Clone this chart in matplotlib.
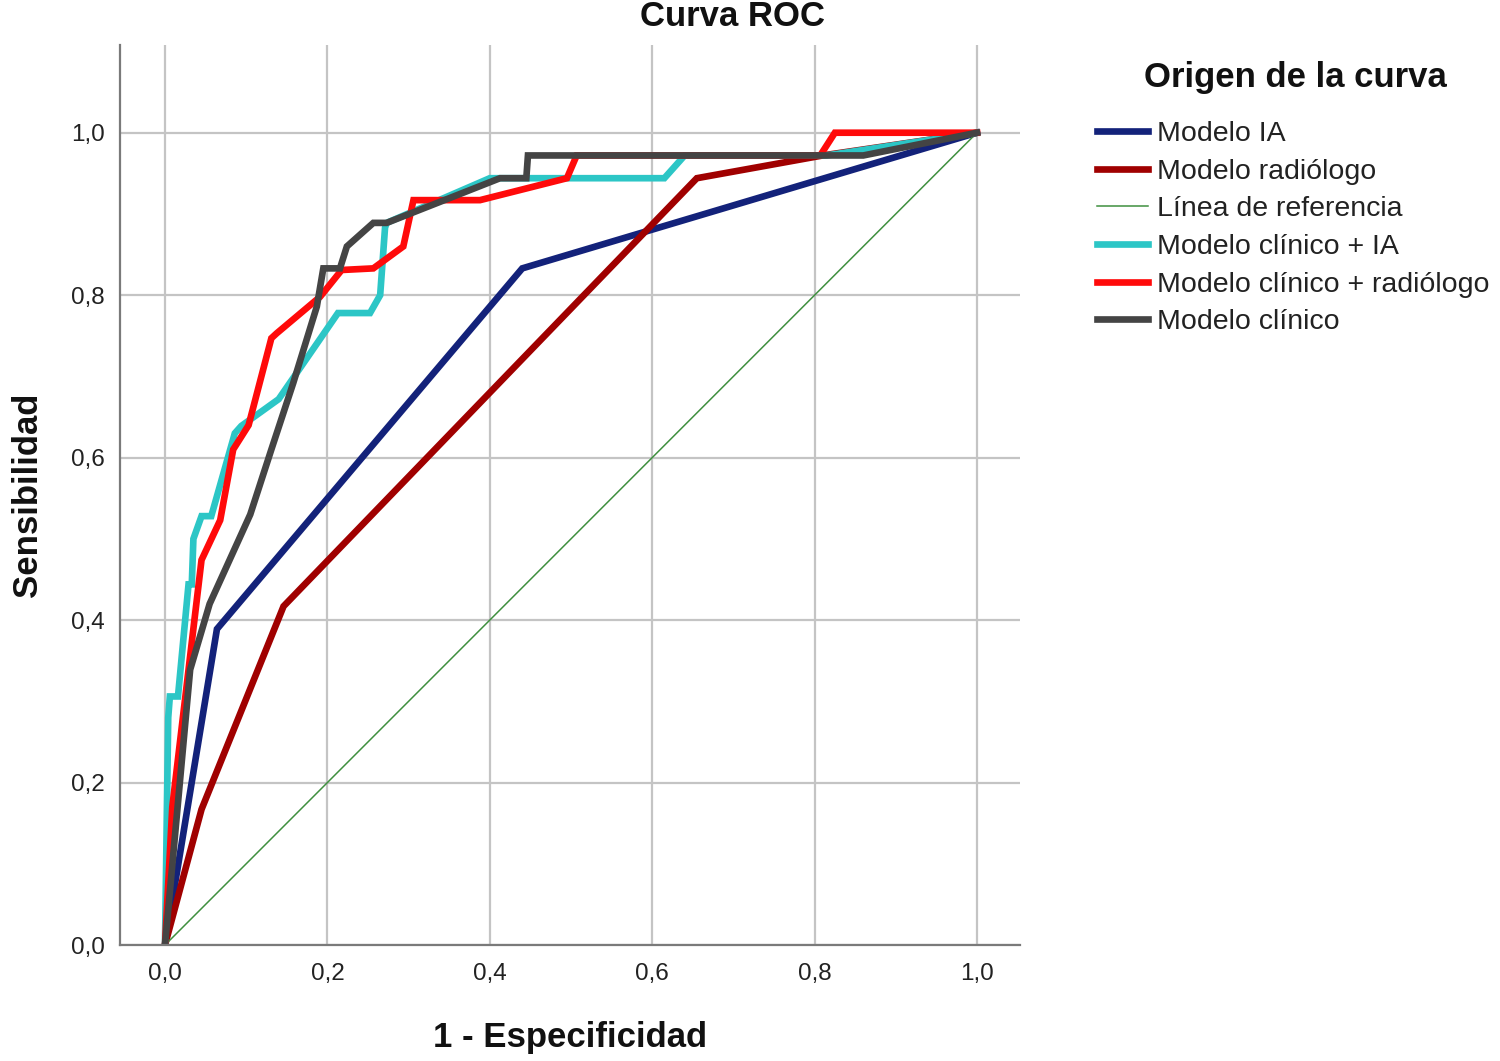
import matplotlib
matplotlib.use("Agg")
import matplotlib.pyplot as plt
from matplotlib.ticker import FixedLocator, FixedFormatter

plt.rcParams['font.family'] = ['Liberation Sans', 'DejaVu Sans']

# ---- data ----
ia_x = [0, 0.064, 0.44, 1.0]
ia_y = [0, 0.389, 0.833, 1.0]

rad_x = [0, 0.045, 0.146, 0.655, 0.81, 1.0]
rad_y = [0, 0.167, 0.417, 0.944, 0.972, 1.0]

ref_x = [0, 1.0]
ref_y = [0, 1.0]

cia_x = [0, 0.004, 0.006, 0.016, 0.029, 0.033, 0.035, 0.045, 0.057, 0.086, 0.094,
         0.14, 0.213, 0.2525, 0.265, 0.271, 0.273, 0.40, 0.615, 0.64, 0.815, 1.0]
cia_y = [0, 0.28, 0.306, 0.306, 0.444, 0.444, 0.5, 0.528, 0.528, 0.63, 0.639,
         0.672, 0.778, 0.778, 0.80, 0.883, 0.889, 0.944, 0.944, 0.972, 0.972, 1.0]

crad_x = [0, 0.009, 0.045, 0.068, 0.084, 0.103, 0.131, 0.1375, 0.191, 0.2176, 0.2566,
          0.2935, 0.306, 0.388, 0.495, 0.507, 0.807, 0.825, 1.0]
crad_y = [0, 0.17, 0.474, 0.523, 0.61, 0.64, 0.747, 0.753, 0.798, 0.831, 0.833,
          0.86, 0.917, 0.917, 0.944, 0.972, 0.972, 1.0, 1.0]

cli_x = [0, 0.031, 0.055, 0.105, 0.131, 0.158, 0.187, 0.195, 0.2155, 0.224, 0.2566,
         0.273, 0.4126, 0.445, 0.447, 0.86, 1.0]
cli_y = [0, 0.339, 0.42, 0.53, 0.61, 0.692, 0.786, 0.833, 0.833, 0.86, 0.889,
         0.889, 0.944, 0.944, 0.972, 0.972, 1.0]

series_labels = ["Modelo IA", "Modelo radiólogo", "Línea de referencia",
                 "Modelo clínico + IA", "Modelo clínico + radiólogo", "Modelo clínico"]

tick_vals = [0.0, 0.2, 0.4, 0.6, 0.8, 1.0]
tick_labels = ["0,0", "0,2", "0,4", "0,6", "0,8", "1,0"]

title = "Curva ROC"
xlabel = "1 - Especificidad"
ylabel = "Sensibilidad"
legend_title = "Origen de la curva"

# ---- figure ----
fig = plt.figure(figsize=(15, 10.61), dpi=100)
ax = fig.add_axes([0.08, 0.1093, 0.6, 0.8483])

lw = 4.8
ax.plot(ia_x, ia_y, color='#13227a', lw=lw, label=series_labels[0], solid_joinstyle='miter')
ax.plot(rad_x, rad_y, color='#a00000', lw=lw, label=series_labels[1], solid_joinstyle='miter')
ax.plot(ref_x, ref_y, color='#3f8f3f', lw=1.1, label=series_labels[2])
ax.plot(cia_x, cia_y, color='#2cc6c6', lw=lw, label=series_labels[3], solid_joinstyle='miter')
ax.plot(crad_x, crad_y, color='#ff0a0a', lw=lw, label=series_labels[4], solid_joinstyle='miter')
ax.plot(cli_x, cli_y, color='#444444', lw=lw, label=series_labels[5], solid_joinstyle='miter')

ax.set_xlim(-0.0554, 1.053)
ax.set_ylim(0, 1.108)

ax.xaxis.set_major_locator(FixedLocator(tick_vals))
ax.xaxis.set_major_formatter(FixedFormatter(tick_labels))
ax.yaxis.set_major_locator(FixedLocator(tick_vals))
ax.yaxis.set_major_formatter(FixedFormatter(tick_labels))

ax.grid(True, color='#c4c4c4', lw=1.6)
ax.set_axisbelow(True)
for s in ['top', 'right']:
    ax.spines[s].set_visible(False)
for s in ['left', 'bottom']:
    ax.spines[s].set_color('#7a7a7a')
    ax.spines[s].set_linewidth(1.6)

ax.tick_params(axis='both', length=0, labelsize=17.5, colors='#222222')
ax.tick_params(axis='x', pad=13)
ax.tick_params(axis='y', pad=11)

ax.set_xlabel(xlabel, fontsize=25, fontweight='bold', labelpad=26, color='#111111')
ax.set_ylabel(ylabel, fontsize=25, fontweight='bold', labelpad=19, color='#111111')

fig.text(732 / 1500, 1 - 17 / 1061, title, fontsize=25, fontweight='bold',
         ha='center', va='center', color='#111111')

fig.text(1295 / 1500, 1 - 77 / 1061, legend_title, fontsize=25, fontweight='bold',
         ha='center', va='center', color='#111111')

leg = ax.legend(loc='upper left', bbox_to_anchor=(1097 / 1500, 1 - 121 / 1061),
                bbox_transform=fig.transFigure, frameon=False, borderpad=0,
                borderaxespad=0, fontsize=20.5, handlelength=1.8, handletextpad=0.3,
                labelspacing=0.41)
for t in leg.get_texts():
    t.set_color('#222222')

fig.savefig("out.png", dpi=100)
